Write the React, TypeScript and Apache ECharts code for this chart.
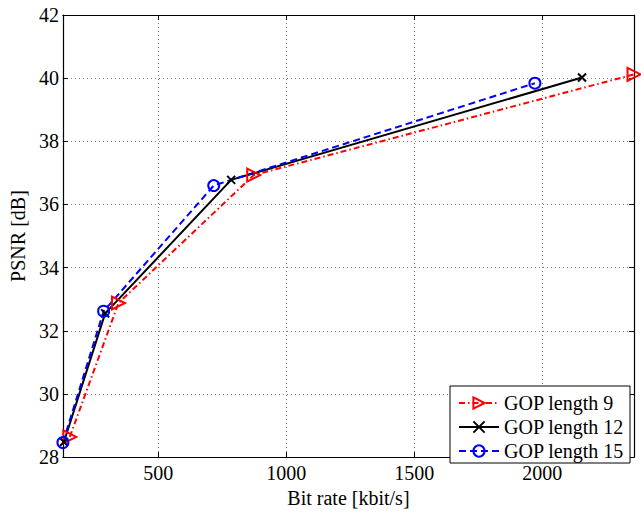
import React, { useEffect, useRef } from "react";
import * as echarts from "echarts";

const seriesNames = ["GOP length 9", "GOP length 12", "GOP length 15"];
const gop9: [number, number][] = [[155, 28.64], [345, 32.88], [873, 36.93], [2358, 40.12]];
const gop12: [number, number][] = [[132, 28.48], [293, 32.55], [785, 36.78], [2155, 40.02]];
const gop15: [number, number][] = [[128, 28.46], [287, 32.62], [717, 36.6], [1971, 39.84]];
const xTicks = [500, 1000, 1500, 2000];
const yTicks = [28, 30, 32, 34, 36, 38, 40, 42];

const FONT = "Liberation Serif";

export default function App() {
  const ref = useRef<HTMLDivElement>(null);
  useEffect(() => {
    if (!ref.current) return;
    const chart = echarts.init(ref.current, undefined, { renderer: "svg" });
    const xMin = 128;
    const xMax = 2358;
    const axisLine = { show: true, lineStyle: { color: "#000", width: 1.2 } };
    const tick = { show: true, inside: true, length: 5, lineStyle: { color: "#000", width: 1 } };
    const grid = { show: true, lineStyle: { color: "#777", type: [1, 3] as any, width: 1 } };
    chart.setOption({
      animation: false,
      backgroundColor: "#fff",
      textStyle: { fontFamily: FONT },
      grid: { left: 60, top: 15, width: 574, height: 454, containLabel: false },
      legend: {
        orient: "vertical",
        left: 450,
        top: 386,
        padding: [7, 6, 2, 8],
        itemWidth: 40,
        itemHeight: 14,
        itemGap: 4,
        backgroundColor: "#fff",
        borderColor: "#000",
        borderWidth: 1,
        borderRadius: 0,
        textStyle: { fontFamily: FONT, fontSize: 20, color: "#000", lineHeight: 20 },
        data: seriesNames,
      },
      xAxis: [
        {
          type: "value",
          min: xMin,
          max: xMax,
          minInterval: 500,
          maxInterval: 500,
          position: "bottom",
          name: "Bit rate [kbit/s]",
          nameLocation: "middle",
          nameGap: 25,
          nameTextStyle: { fontFamily: FONT, fontSize: 20, color: "#000" },
          axisLine,
          axisTick: tick,
          splitLine: grid,
          axisLabel: {
            fontFamily: FONT,
            fontSize: 20,
            color: "#000",
            margin: 6,
            formatter: (v: number) => (xTicks.includes(v) ? String(v) : ""),
          },
        },
        {
          type: "value",
          min: xMin,
          max: xMax,
          minInterval: 500,
          maxInterval: 500,
          position: "top",
          axisLine,
          axisTick: tick,
          splitLine: { show: false },
          axisLabel: { show: false },
        },
      ],
      yAxis: [
        {
          type: "value",
          min: 28,
          max: 42,
          interval: 2,
          position: "left",
          name: "PSNR [dB]",
          nameLocation: "middle",
          nameGap: 33,
          nameTextStyle: { fontFamily: FONT, fontSize: 20, color: "#000" },
          axisLine,
          axisTick: tick,
          splitLine: grid,
          axisLabel: {
            fontFamily: FONT,
            fontSize: 20,
            color: "#000",
            margin: 4,
            formatter: (v: number) => (yTicks.includes(v) ? String(v) : ""),
          },
        },
        {
          type: "value",
          min: 28,
          max: 42,
          interval: 2,
          position: "right",
          axisLine,
          axisTick: tick,
          splitLine: { show: false },
          axisLabel: { show: false },
        },
      ],
      series: [
        {
          name: seriesNames[0],
          type: "line",
          data: gop9,
          symbol: "triangle",
          symbolRotate: -90,
          symbolSize: [13, 13],
          showAllSymbol: true,
          lineStyle: { color: "#ff0000", width: 2, type: [6, 3, 1.5, 3] },
          itemStyle: { color: "rgba(0,0,0,0)", borderColor: "#ff0000", borderWidth: 2 },
        },
        {
          name: seriesNames[1],
          type: "line",
          data: gop12,
          symbol: "path://M0,0L10,10M10,0L0,10",
          symbolSize: 8,
          showAllSymbol: true,
          lineStyle: { color: "#000", width: 2, type: "solid" },
          itemStyle: { color: "rgba(0,0,0,0)", borderColor: "#000", borderWidth: 2 },
        },
        {
          name: seriesNames[2],
          type: "line",
          data: gop15,
          symbol: "circle",
          symbolSize: 11,
          showAllSymbol: true,
          lineStyle: { color: "#0000ff", width: 2, type: [7, 4] },
          itemStyle: { color: "rgba(0,0,0,0)", borderColor: "#0000ff", borderWidth: 2 },
        },
      ],
    });
    return () => chart.dispose();
  }, []);
  return (
    <div
      ref={ref}
      style={{ position: "fixed", left: 0, top: 0, width: 641, height: 513, background: "#fff" }}
    />
  );
}
